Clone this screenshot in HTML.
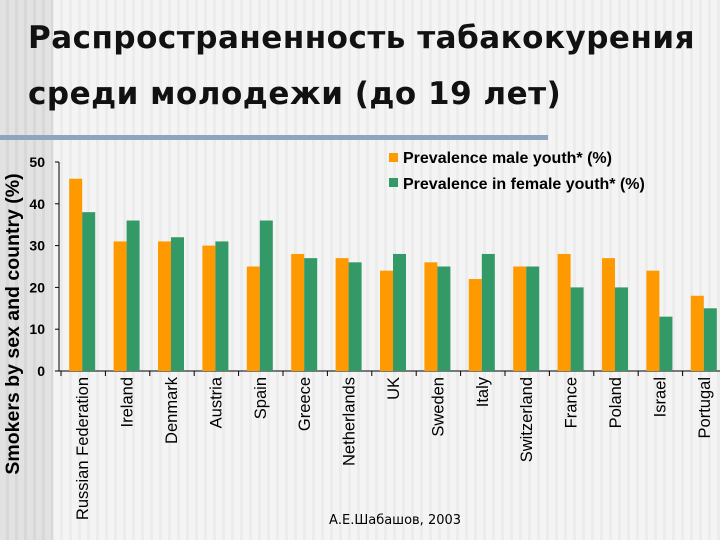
<!DOCTYPE html>
<html><head><meta charset="utf-8"><style>
body{margin:0;width:720px;height:540px;overflow:hidden;background:#f3f3f3;font-family:"Liberation Sans","DejaVu Sans",sans-serif;}
#bg{position:absolute;left:0;top:0;width:720px;height:540px;background:repeating-linear-gradient(90deg,#f4f4f4 0 6px,#ececec 6px 9px);}
#strip{position:absolute;left:0;top:0;width:53px;height:540px;background:repeating-linear-gradient(90deg,#e2e2e2 0 6px,#d8d8d8 6px 9px);}
h1{position:absolute;left:28px;top:10px;margin:0;font-family:"DejaVu Sans","Noto Sans CJK SC",sans-serif;font-size:31px;font-weight:bold;line-height:56px;color:#111;letter-spacing:0.5px}
#sep{position:absolute;left:0;top:135px;width:548px;height:5px;background:#8fa5bf}
svg{position:absolute;left:0;top:0}
</style></head><body>
<div id="bg"></div>
<div id="strip"></div>
<h1>Распространенность табакокурения<br>среди молодежи (до 19 лет)</h1>
<div id="sep"></div>
<svg id="c" width="720" height="540"></svg>
<script>
const categories=["Russian Federation","Ireland","Denmark","Austria","Spain","Greece","Netherlands","UK","Sweden","Italy","Switzerland","France","Poland","Israel","Portugal"];
const maleValues=[46,31,31,30,25,28,27,24,26,22,25,28,27,24,18];
const femaleValues=[38,36,32,31,36,27,26,28,25,28,25,20,20,13,15];
const yTicks=[0,10,20,30,40,50];
const svg=document.getElementById('c'),NS="http://www.w3.org/2000/svg";
const xAxis=59,x0=61,step=44.4,y0=371,yTop=162,ymax=50;
const y=v=>y0-(v/ymax)*(y0-yTop);
function mk(t,a,txt){const e=document.createElementNS(NS,t);for(const k in a)e.setAttribute(k,a[k]);if(txt!==undefined)e.textContent=txt;svg.appendChild(e);return e;}
let e=mk('line',{x1:xAxis,y1:yTop,x2:xAxis,y2:y0,stroke:'#000'});

e=mk('line',{x1:xAxis,y1:y0,x2:730,y2:y0,stroke:'#000'});

yTicks.forEach(t=>{
 e=mk('line',{x1:xAxis-4,y1:y(t),x2:xAxis,y2:y(t),stroke:'#000'});
 
 e=mk('text',{x:xAxis-14,y:y(t)+5,'text-anchor':'end','font-size':14,'font-weight':'bold'},t);
 
});
categories.forEach((c,i)=>{
 const cx=x0+step*(i+0.5);
 e=mk('line',{x1:x0+step*i,y1:y0,x2:x0+step*i,y2:y0+5,stroke:'#000'});
 
 e=mk('rect',{x:cx-14,y:y(maleValues[i]),width:13,height:y0-y(maleValues[i]),fill:'#ff9900'});
 
 e=mk('rect',{x:cx-1,y:y(femaleValues[i]),width:13,height:y0-y(femaleValues[i]),fill:'#339966'});
 
 e=mk('text',{x:0,y:0,transform:`translate(${cx+5},${y0+6}) rotate(-90)`,'text-anchor':'end','font-size':16.5},c);
 
});
e=mk('text',{x:0,y:0,transform:'translate(19,324) rotate(-90)','text-anchor':'middle','font-size':19.5,'font-weight':'bold'},'Smokers by sex and country (%)');

e=mk('rect',{x:389,y:153,width:9,height:9,fill:'#ff9900'});

e=mk('text',{x:403,y:163,'font-size':16,'font-weight':'bold'},'Prevalence male youth* (%)');

e=mk('rect',{x:389,y:178,width:9,height:9,fill:'#339966'});

e=mk('text',{x:403,y:189,'font-size':16,'font-weight':'bold'},'Prevalence in female youth* (%)');

e=mk('text',{x:395,y:524,'text-anchor':'middle','font-size':13,'font-family':'"DejaVu Sans",sans-serif'},'А.Е.Шабашов, 2003');

</script>
</body></html>
